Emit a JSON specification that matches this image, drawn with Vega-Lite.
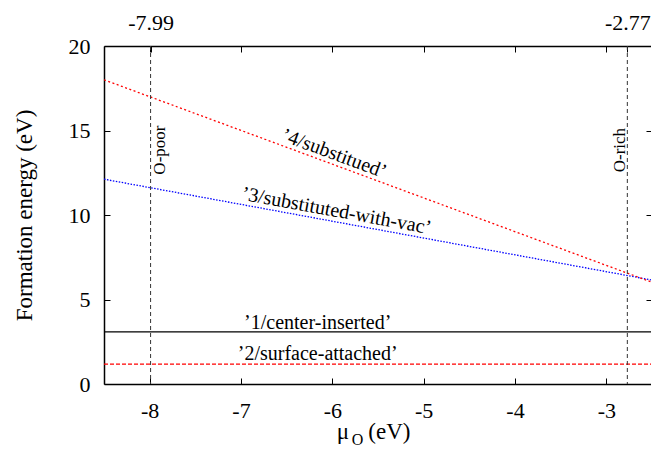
{
  "$schema": "https://vega.github.io/schema/vega-lite/v6.json",
  "width": 548,
  "height": 338,
  "autosize": {"type": "none"},
  "padding": {"left": 104, "top": 46, "right": 0, "bottom": 70},
  "background": "white",
  "config": {
    "view": {"stroke": null},
    "font": "'Times New Roman', 'Liberation Serif', serif",
    "axis": {
      "grid": false,
      "domainColor": "black",
      "domainWidth": 1.5,
      "tickColor": "black",
      "tickWidth": 1,
      "labelFont": "'Times New Roman', 'Liberation Serif', serif",
      "labelFontSize": 22,
      "labelColor": "black",
      "titleFont": "'Times New Roman', 'Liberation Serif', serif",
      "titleFontSize": 23,
      "titleFontWeight": "normal",
      "titleColor": "black"
    },
    "text": {"font": "'Times New Roman', 'Liberation Serif', serif", "color": "black"}
  },
  "datasets": {
    "lines": [
      {"state": "1/center-inserted", "mu": -8.5, "E": 3.08},
      {"state": "1/center-inserted", "mu": -2.5, "E": 3.08},
      {"state": "2/surface-attached", "mu": -8.5, "E": 1.18},
      {"state": "2/surface-attached", "mu": -2.5, "E": 1.18},
      {"state": "3/substituted-with-vac", "mu": -8.5, "E": 12.12},
      {"state": "3/substituted-with-vac", "mu": -2.5, "E": 6.15},
      {"state": "4/substitued", "mu": -8.5, "E": 18.0},
      {"state": "4/substitued", "mu": -2.5, "E": 6.02}
    ],
    "flatLabels": [
      {"text": "’1/center-inserted’", "mu": -6.16, "E": 3.25},
      {"text": "’2/surface-attached’", "mu": -6.16, "E": 1.44}
    ],
    "limits": [
      {"mu": -7.99, "tag": "O-poor", "at": -7.887, "E": 13.84},
      {"mu": -2.77, "tag": "O-rich", "at": -2.85, "E": 13.84}
    ]
  },
  "layer": [
    {
      "data": {"name": "lines"},
      "mark": {"type": "line", "strokeWidth": 1.3, "clip": true},
      "encoding": {
        "x": {
          "field": "mu", "type": "quantitative",
          "scale": {"domain": [-8.5, -2.5], "nice": false, "zero": false},
          "axis": {"orient": "bottom", "values": [-8, -7, -6, -5, -4, -3], "title": null,
                   "tickSize": -6, "labelPadding": 22, "labelExpr": "datum.value + ''"}
        },
        "y": {
          "field": "E", "type": "quantitative",
          "scale": {"domain": [0, 20], "nice": false, "zero": false},
          "axis": {"orient": "left", "values": [0, 5, 10, 15, 20], "title": "Formation energy (eV)",
                   "tickSize": -6, "labelPadding": 20, "titlePadding": 32}
        },
        "detail": {"field": "state"},
        "color": {
          "field": "state", "type": "nominal",
          "scale": {"domain": ["1/center-inserted", "2/surface-attached", "3/substituted-with-vac", "4/substitued"],
                    "range": ["#000000", "#ff0000", "#0000ff", "#ff0000"]},
          "legend": null
        },
        "strokeDash": {
          "field": "state", "type": "nominal",
          "scale": {"domain": ["1/center-inserted", "2/surface-attached", "3/substituted-with-vac", "4/substitued"],
                    "range": [[1, 0], [4, 2], [1.5, 1.5], [2, 2.5]]},
          "legend": null
        }
      }
    },
    {
      "data": {"name": "limits"},
      "mark": {"type": "rule", "strokeDash": [4, 3], "color": "#333333", "strokeWidth": 1},
      "encoding": {
        "x": {"field": "mu", "type": "quantitative", "scale": {"domain": [-8.5, -2.5], "nice": false, "zero": false}, "axis": null}
      }
    },
    {
      "data": {"name": "limits"},
      "mark": {"type": "text", "angle": 270, "fontSize": 17, "align": "center", "baseline": "middle"},
      "encoding": {
        "x": {"field": "at", "type": "quantitative", "scale": {"domain": [-8.5, -2.5], "nice": false, "zero": false}, "axis": null},
        "y": {"field": "E", "type": "quantitative", "scale": {"domain": [0, 20], "nice": false, "zero": false}, "axis": null},
        "text": {"field": "tag"}
      }
    },
    {
      "data": {"name": "flatLabels"},
      "mark": {"type": "text", "fontSize": 20, "align": "center", "baseline": "alphabetic"},
      "encoding": {
        "x": {
          "field": "mu", "type": "quantitative",
          "scale": {"domain": [-8.5, -2.5], "nice": false, "zero": false},
          "axis": {"orient": "top", "values": [-8, -7, -6, -5, -4, -3, -7.99, -2.77], "title": null,
                   "tickSize": -6, "labelPadding": 18,
                   "labelExpr": "datum.value == -7.99 || datum.value == -2.77 ? datum.value + '' : ''"}
        },
        "y": {
          "field": "E", "type": "quantitative",
          "scale": {"domain": [0, 20], "nice": false, "zero": false},
          "axis": {"orient": "right", "values": [0, 5, 10, 15, 20], "title": null, "labels": false, "tickSize": -6}
        },
        "text": {"field": "text"}
      }
    },
    {
      "data": {"values": [{"text": "’4/substitued’", "mu": -5.98, "E": 13.63}]},
      "mark": {"type": "text", "fontSize": 20, "angle": 20.3, "align": "center", "baseline": "middle"},
      "encoding": {
        "x": {"field": "mu", "type": "quantitative", "scale": {"domain": [-8.5, -2.5], "nice": false, "zero": false}, "axis": null},
        "y": {"field": "E", "type": "quantitative", "scale": {"domain": [0, 20], "nice": false, "zero": false}, "axis": null},
        "text": {"field": "text"}
      }
    },
    {
      "data": {"values": [{"text": "’3/substituted-with-vac’", "mu": -5.954, "E": 10.24}]},
      "mark": {"type": "text", "fontSize": 20, "angle": 10.4, "align": "center", "baseline": "middle"},
      "encoding": {
        "x": {"field": "mu", "type": "quantitative", "scale": {"domain": [-8.5, -2.5], "nice": false, "zero": false}, "axis": null},
        "y": {"field": "E", "type": "quantitative", "scale": {"domain": [0, 20], "nice": false, "zero": false}, "axis": null},
        "text": {"field": "text"}
      }
    },
    {
      "data": {"values": [{"text": "μ", "mu": -5.952, "E": -3.23}, {"text": "(eV)", "mu": -5.606, "E": -3.23}]},
      "mark": {"type": "text", "fontSize": 23, "align": "left", "baseline": "alphabetic"},
      "encoding": {
        "x": {"field": "mu", "type": "quantitative", "scale": {"domain": [-8.5, -2.5], "nice": false, "zero": false}, "axis": null},
        "y": {"field": "E", "type": "quantitative", "scale": {"domain": [0, 20], "nice": false, "zero": false}, "axis": null},
        "text": {"field": "text"}
      }
    },
    {
      "data": {"values": [{"text": "O", "mu": -5.788, "E": -3.58}]},
      "mark": {"type": "text", "fontSize": 16, "align": "left", "baseline": "alphabetic"},
      "encoding": {
        "x": {"field": "mu", "type": "quantitative", "scale": {"domain": [-8.5, -2.5], "nice": false, "zero": false}, "axis": null},
        "y": {"field": "E", "type": "quantitative", "scale": {"domain": [0, 20], "nice": false, "zero": false}, "axis": null},
        "text": {"field": "text"}
      }
    }
  ],
  "resolve": {"axis": {"x": "independent", "y": "independent"}}
}
